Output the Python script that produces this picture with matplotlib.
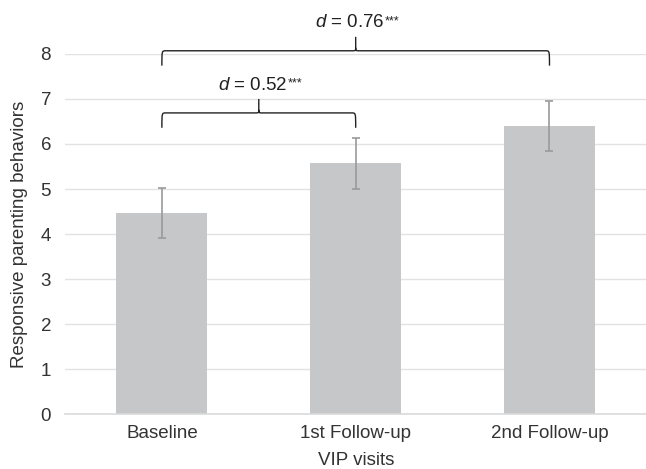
import matplotlib.pyplot as plt
from matplotlib.path import Path
from matplotlib.patches import PathPatch

plt.rcParams['font.family'] = ['Liberation Sans', 'DejaVu Sans']
plt.rcParams['mathtext.fontset'] = 'custom'
plt.rcParams['mathtext.rm'] = 'Liberation Sans'
plt.rcParams['mathtext.it'] = 'Liberation Sans:italic'

visits = ['Baseline', '1st Follow-up', '2nd Follow-up']
means = [4.47, 5.57, 6.39]
errors = [0.55, 0.56, 0.555]
yticks = [0, 1, 2, 3, 4, 5, 6, 7, 8]
comparisons = [(0, 1, '0.52', 6.69), (0, 2, '0.76', 8.07)]

text_col = '#333333'
fs = 13.5

fig = plt.figure(figsize=(6.46, 4.69), dpi=100)
ax = fig.add_axes([0.1006, 0.117, 0.9, 0.768])

x = list(range(len(visits)))
ax.bar(x, means, width=0.47, color='#c6c7c8', zorder=2)
ax.errorbar(x, means, yerr=errors, fmt='none', ecolor='#9a9a9a', elinewidth=1.2,
            capsize=3, capthick=1.2, zorder=3)

ax.set_xlim(-0.5, 2.5)
ax.set_ylim(0, 8)
ax.set_yticks(yticks)
ax.set_xticks(x)
ax.set_xticklabels(visits)
ax.yaxis.grid(True, color='#e2e2e2', linewidth=1, zorder=0)
ax.set_axisbelow(True)
for s in ['top', 'right', 'left']:
    ax.spines[s].set_visible(False)
ax.spines['bottom'].set_color('#dadada')
ax.spines['bottom'].set_linewidth(1.2)
ax.tick_params(axis='both', length=0, labelsize=fs, labelcolor=text_col)
ax.tick_params(axis='y', pad=10)
ax.tick_params(axis='x', pad=8)
ax.set_xlabel('VIP visits', fontsize=fs, color=text_col, labelpad=7)
ax.set_ylabel('Responsive parenting behaviors', fontsize=fs, color=text_col, labelpad=9)


def brace(ax, x0, x1, y, drop, rise, value):
    # curly bracket between two bars, drawn in data units
    rx, ry = 0.02, 0.07
    xm = (x0 + x1) / 2
    verts = [
        (x0, y - drop), (x0, y), (x0, y), (x0 + rx, y),
        (xm - rx, y), (xm, y), (xm, y), (xm, y + ry),
        (xm, y + rise),
        (xm, y + ry), (xm, y), (xm, y), (xm + rx, y),
        (x1 - rx, y), (x1, y), (x1, y), (x1, y - drop),
    ]
    codes = [Path.MOVETO, Path.CURVE4, Path.CURVE4, Path.CURVE4,
             Path.LINETO, Path.CURVE4, Path.CURVE4, Path.CURVE4,
             Path.LINETO,
             Path.MOVETO, Path.CURVE4, Path.CURVE4, Path.CURVE4,
             Path.LINETO, Path.CURVE4, Path.CURVE4, Path.CURVE4]
    ax.add_patch(PathPatch(Path(verts, codes), fill=False, edgecolor='#222222',
                           linewidth=1.0, clip_on=False, zorder=4))
    t = ax.text(xm - 0.03, y + rise + 0.12, r'$d$ = ' + value, ha='center', va='bottom',
                fontsize=fs, color='#222222', clip_on=False)
    ax.annotate('***', xy=(1, 0.95), xycoords=t, ha='left', va='top',
                fontsize=9, color='#222222', annotation_clip=False)


for x0, x1, value, yb in comparisons:
    brace(ax, x0, x1, yb, 0.33, 0.31, value)

fig.savefig('out.png', dpi=100)
